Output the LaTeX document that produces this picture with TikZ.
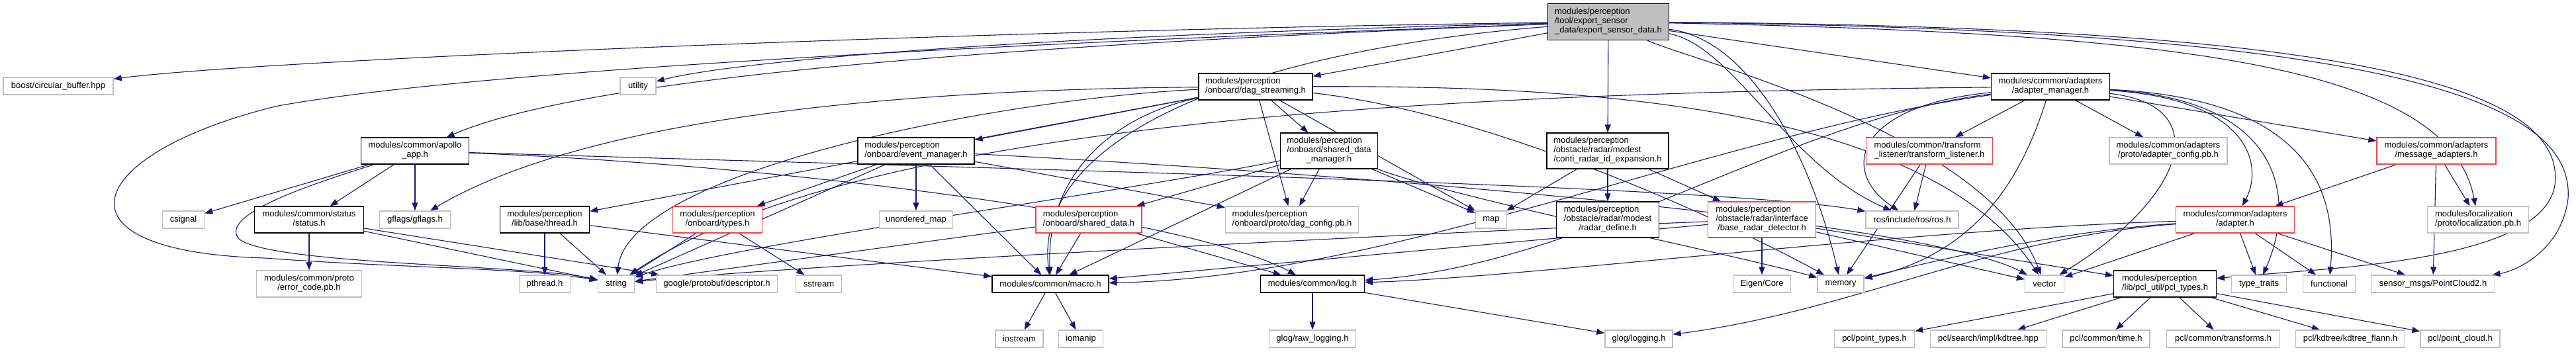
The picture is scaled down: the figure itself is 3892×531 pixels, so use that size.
\documentclass[tikz,border=0pt]{standalone}
\usepackage{fontspec}
\setmainfont{Liberation Sans}
\usepackage{tikz}
\usetikzlibrary{arrows.meta}

\definecolor{edgeblue}{RGB}{25,25,112}
\definecolor{extgray}{RGB}{191,191,191}
\definecolor{rootgray}{RGB}{191,191,191}
\definecolor{cutred}{RGB}{255,64,64}

\pgfdeclarelayer{background}
\pgfsetlayers{background,main}

\newcommand{\lbltwo}[2]{\begin{tabular}{@{}l@{}}#1\\\multicolumn{1}{@{}c@{}}{#2}\end{tabular}}
\newcommand{\lblthree}[3]{\begin{tabular}{@{}l@{}}#1\\#2\\\multicolumn{1}{@{}c@{}}{#3}\end{tabular}}

\begin{document}
\begin{tikzpicture}[x=1pt,y=-1pt]
    \tikzset{box/.style = {shape=rectangle,inner xsep=3pt,inner ysep=0pt,font=\fontsize{13}{14}\selectfont,fill=white}}
    \tikzset{docbox/.style = {box,draw=black,line width=1.2pt}}
    \tikzset{extbox/.style = {box,draw=extgray,line width=1.4pt}}
    \tikzset{cutbox/.style = {box,draw=cutred,line width=1.4pt}}
    \tikzset{rootbox/.style = {docbox,fill=rootgray}}
    \tikzset{edge/.style = {->,> = {Triangle[length=12pt,width=9pt]},draw=edgeblue,line width=1.1pt}}

    \useasboundingbox (0,0) rectangle (3892,531);

    % vertices

    \node[rootbox,minimum width=183,minimum height=55] (root) at (2430,33) {\lblthree{modules/perception}{/tool/export\_sensor}{\_data/export\_sensor\_data.h}};

    \node[extbox,minimum width=166,minimum height=26] (boost) at (88,130) {boost/circular\_buffer.hpp};
    \node[extbox,minimum width=54,minimum height=26] (utility) at (964,130) {utility};
    \node[docbox,minimum width=172,minimum height=40] (dag) at (1897,131) {\lbltwo{modules/perception}{/onboard/dag\_streaming.h}};
    \node[docbox,minimum width=179,minimum height=40] (amgr) at (3098,131) {\lbltwo{modules/common/adapters}{/adapter\_manager.h}};

    \node[docbox,minimum width=163,minimum height=40] (apollo) at (627,228) {\lbltwo{modules/common/apollo}{\_app.h}};
    \node[docbox,minimum width=176,minimum height=40] (evmgr) at (1384,228) {\lbltwo{modules/perception}{/onboard/event\_manager.h}};
    \node[docbox,minimum width=147,minimum height=54] (sdmgr) at (2008,228) {\lblthree{modules/perception}{/onboard/shared\_data}{\_manager.h}};
    \node[docbox,minimum width=184,minimum height=54] (conti) at (2429,228) {\lblthree{modules/perception}{/obstacle/radar/modest}{/conti\_radar\_id\_expansion.h}};
    \node[cutbox,minimum width=191,minimum height=40] (tflist) at (2915,228) {\lbltwo{modules/common/transform}{\_listener/transform\_listener.h}};
    \node[extbox,minimum width=178,minimum height=40] (acfg) at (3276,228) {\lbltwo{modules/common/adapters}{/proto/adapter\_config.pb.h}};
    \node[cutbox,minimum width=180,minimum height=40] (msgad) at (3681,228) {\lbltwo{modules/common/adapters}{/message\_adapters.h}};

    \node[extbox,minimum width=63,minimum height=26] (csignal) at (277,332) {csignal};
    \node[docbox,minimum width=165,minimum height=40] (status) at (467,332) {\lbltwo{modules/common/status}{/status.h}};
    \node[extbox,minimum width=107,minimum height=26] (gflags) at (627,332) {gflags/gflags.h};
    \node[docbox,minimum width=135,minimum height=40] (thread) at (823,332) {\lbltwo{modules/perception}{/lib/base/thread.h}};
    \node[cutbox,minimum width=135,minimum height=40] (types) at (1084,332) {\lbltwo{modules/perception}{/onboard/types.h}};
    \node[extbox,minimum width=111,minimum height=26] (umap) at (1384,332) {unordered\_map};
    \node[cutbox,minimum width=160,minimum height=40] (sdata) at (1645,332) {\lbltwo{modules/perception}{/onboard/shared\_data.h}};
    \node[extbox,minimum width=201,minimum height=40] (dagcfg) at (1952,332) {\lbltwo{modules/perception}{/onboard/proto/dag\_config.pb.h}};
    \node[extbox,minimum width=47,minimum height=26] (map) at (2253,332) {map};
    \node[docbox,minimum width=155,minimum height=54] (rdef) at (2429,332) {\lblthree{modules/perception}{/obstacle/radar/modest}{/radar\_define.h}};
    \node[cutbox,minimum width=163,minimum height=54] (brd) at (2662,332) {\lblthree{modules/perception}{/obstacle/radar/interface}{/base\_radar\_detector.h}};
    \node[extbox,minimum width=140,minimum height=26] (ros) at (2889,332) {ros/include/ros/ros.h};
    \node[cutbox,minimum width=179,minimum height=40] (adapter) at (3377,332) {\lbltwo{modules/common/adapters}{/adapter.h}};
    \node[extbox,minimum width=153,minimum height=40] (loc) at (3744,332) {\lbltwo{modules/localization}{/proto/localization.pb.h}};

    \node[extbox,minimum width=159,minimum height=40] (errc) at (467,429) {\lbltwo{modules/common/proto}{/error\_code.pb.h}};
    \node[extbox,minimum width=77,minimum height=26] (pthread) at (823,429) {pthread.h};
    \node[extbox,minimum width=55,minimum height=26] (string) at (931,429) {string};
    \node[extbox,minimum width=183,minimum height=26] (desc) at (1083,429) {google/protobuf/descriptor.h};
    \node[extbox,minimum width=69,minimum height=26] (sstream) at (1237,429) {sstream};
    \node[docbox,minimum width=176,minimum height=26] (macro) at (1587,429) {modules/common/macro.h};
    \node[docbox,minimum width=157,minimum height=26] (log) at (1983,429) {modules/common/log.h};
    \node[extbox,minimum width=87,minimum height=26] (eigen) at (2662,429) {Eigen/Core};
    \node[extbox,minimum width=70,minimum height=26] (memory) at (2781,429) {memory};
    \node[extbox,minimum width=59,minimum height=26] (vector) at (3089,429) {vector};
    \node[docbox,minimum width=155,minimum height=40] (pcl) at (3271,429) {\lbltwo{modules/perception}{/lib/pcl\_util/pcl\_types.h}};
    \node[extbox,minimum width=83,minimum height=26] (ttraits) at (3413,429) {type\_traits};
    \node[extbox,minimum width=79,minimum height=26] (functional) at (3519,429) {functional};
    \node[extbox,minimum width=187,minimum height=26] (pc2) at (3676,429) {sensor\_msgs/PointCloud2.h};

    \node[extbox,minimum width=72,minimum height=26] (iostream) at (1540,512) {iostream};
    \node[extbox,minimum width=67,minimum height=26] (iomanip) at (1633,512) {iomanip};
    \node[extbox,minimum width=131,minimum height=26] (rawlog) at (1983,512) {glog/raw\_logging.h};
    \node[extbox,minimum width=102,minimum height=26] (glog) at (2476,512) {glog/logging.h};
    \node[extbox,minimum width=121,minimum height=26] (ptypes) at (2832,512) {pcl/point\_types.h};
    \node[extbox,minimum width=175,minimum height=26] (kdtree) at (3004,512) {pcl/search/impl/kdtree.hpp};
    \node[extbox,minimum width=132,minimum height=26] (ctime) at (3182,512) {pcl/common/time.h};
    \node[extbox,minimum width=171,minimum height=26] (transforms) at (3359,512) {pcl/common/transforms.h};
    \node[extbox,minimum width=165,minimum height=26] (kflann) at (3551,512) {pcl/kdtree/kdtree\_flann.h};
    \node[extbox,minimum width=120,minimum height=26] (pcloud) at (3717,512) {pcl/point\_cloud.h};

    \begin{pgfonlayer}{background}
    % edges of the root file
    \draw[edge] (root) .. controls (1500,45) and (400,90) .. (boost);
    \draw[edge] (root) .. controls (1500,55) and (1100,95) .. (utility);
    \draw[edge] (root) .. controls (1600,65) and (900,110) .. (apollo);
    \draw[edge] (root) .. controls (1400,70) and (700,110) .. (420,160) .. controls (130,230) and (60,380) .. (400,390) .. controls (600,405) and (800,405) .. (string);
    \draw[edge] (root) to (dag);
    \draw[edge] (root) to (amgr);
    \draw[edge] (root) to (conti);
    \draw[edge] (root) .. controls (1900,75) and (1560,200) .. (macro);
    \draw[edge] (root) .. controls (2650,60) and (2740,250) .. (memory);
    \draw[edge] (root) .. controls (2620,70) and (2700,250) .. (ros);
    \draw[edge] (root) .. controls (2550,90) and (3000,200) .. (vector);
    \draw[edge] (root) .. controls (3300,50) and (3700,100) .. (loc);
    \draw[edge] (root) .. controls (3500,40) and (3880,120) .. (3860,280) .. controls (3840,400) and (3500,405) .. (pcl);
    \draw[edge] (root) .. controls (3600,45) and (3890,150) .. (3880,300) .. controls (3870,380) and (3800,410) .. (pc2);

    % dag_streaming
    \draw[edge] (dag) to (evmgr);
    \draw[edge] (dag) to (sdmgr);
    \draw[edge] (dag) .. controls (1400,135) and (900,170) .. (gflags);
    \draw[edge] (dag) to (thread);
    \draw[edge] (dag) .. controls (1500,150) and (950,260) .. (string);
    \draw[edge] (dag) to (dagcfg);
    \draw[edge] (dag) to (map);
    \draw[edge] (dag) .. controls (2250,170) and (2600,330) .. (memory);
    \draw[edge] (dag) .. controls (2300,130) and (2900,140) .. (vector);
    \draw[edge] (dag) .. controls (1700,170) and (1580,250) .. (macro);

    % event_manager
    \draw[edge] (evmgr) to (umap);
    \draw[edge] (evmgr) to (types);
    \draw[edge] (evmgr) to (string);
    \draw[edge] (evmgr) to (macro);
    \draw[edge] (evmgr) to (dagcfg);
    \draw[edge] (evmgr) .. controls (2000,260) and (2900,330) .. (vector);

    % shared_data_manager
    \draw[edge] (sdmgr) to (sdata);
    \draw[edge] (sdmgr) to (map);
    \draw[edge] (sdmgr) .. controls (2200,300) and (2600,380) .. (memory);
    \draw[edge] (sdmgr) .. controls (1700,290) and (1100,370) .. (string);
    \draw[edge] (sdmgr) to (macro);
    \draw[edge] (sdmgr) to (dagcfg);

    % conti_radar_id_expansion
    \draw[edge] (conti) to (rdef);
    \draw[edge] (conti) to (brd);
    \draw[edge] (conti) to (map);

    % apollo_app
    \draw[edge] (apollo) to (csignal);
    \draw[edge] (apollo) to (status);
    \draw[edge] (apollo) to (gflags);
    \draw[edge] (apollo) .. controls (500,270) and (330,320) .. (360,360) .. controls (400,400) and (800,400) .. (string);
    \draw[edge] (apollo) .. controls (1200,250) and (1800,330) .. (log);
    \draw[edge] (apollo) .. controls (1500,255) and (2600,280) .. (ros);

    % status, thread, types, shared_data
    \draw[edge] (status) to (errc);
    \draw[edge] (status) to (string);
    \draw[edge] (status) to (desc);
    \draw[edge] (thread) to (pthread);
    \draw[edge] (thread) to (string);
    \draw[edge] (thread) to (macro);
    \draw[edge] (types) to (string);
    \draw[edge] (types) to (sstream);
    \draw[edge] (sdata) to (macro);
    \draw[edge] (sdata) to (log);
    \draw[edge] (sdata) to (string);

    % base_radar_detector
    \draw[edge] (brd) to (eigen);
    \draw[edge] (brd) to (vector);
    \draw[edge] (brd) to (pcl);
    \draw[edge] (brd) .. controls (2300,345) and (1200,400) .. (string);
    \draw[edge] (brd) to (macro);

    % adapters
    \draw[edge] (tflist) to (ros);
    \draw[edge] (tflist) to (memory);
    \draw[edge] (amgr) to (tflist);
    \draw[edge] (amgr) to (acfg);
    \draw[edge] (amgr) to (msgad);
    \draw[edge] (amgr) .. controls (3400,150) and (3420,250) .. (adapter);
    \draw[edge] (amgr) .. controls (3450,150) and (3470,300) .. (ttraits);
    \draw[edge] (amgr) .. controls (3500,150) and (3530,300) .. (functional);
    \draw[edge] (amgr) .. controls (3350,160) and (3300,300) .. (vector);
    \draw[edge] (amgr) .. controls (3060,250) and (3000,380) .. (memory);
    \draw[edge] (amgr) .. controls (2800,160) and (2780,260) .. (ros);
    \draw[edge] (amgr) .. controls (2700,180) and (2400,400) .. (log);
    \draw[edge] (amgr) .. controls (2600,200) and (2100,420) .. (macro);
    \draw[edge] (amgr) .. controls (2200,140) and (1300,180) .. (string);
    \draw[edge] (msgad) to (adapter);
    \draw[edge] (msgad) to (loc);
    \draw[edge] (msgad) to (pc2);
    \draw[edge] (adapter) to (ttraits);
    \draw[edge] (adapter) to (functional);
    \draw[edge] (adapter) to (pc2);
    \draw[edge] (adapter) to (vector);
    \draw[edge] (adapter) .. controls (3100,350) and (2900,400) .. (memory);
    \draw[edge] (adapter) .. controls (3000,360) and (2800,470) .. (glog);
    \draw[edge] (adapter) .. controls (2900,345) and (2300,420) .. (log);

    % pcl_types
    \draw[edge] (pcl) to (ptypes);
    \draw[edge] (pcl) to (kdtree);
    \draw[edge] (pcl) to (ctime);
    \draw[edge] (pcl) to (transforms);
    \draw[edge] (pcl) to (kflann);
    \draw[edge] (pcl) to (pcloud);

    % log and macro
    \draw[edge] (log) to (rawlog);
    \draw[edge] (log) to (glog);
    \draw[edge] (macro) to (iostream);
    \draw[edge] (macro) to (iomanip);
    \end{pgfonlayer}
\end{tikzpicture}
\end{document}
